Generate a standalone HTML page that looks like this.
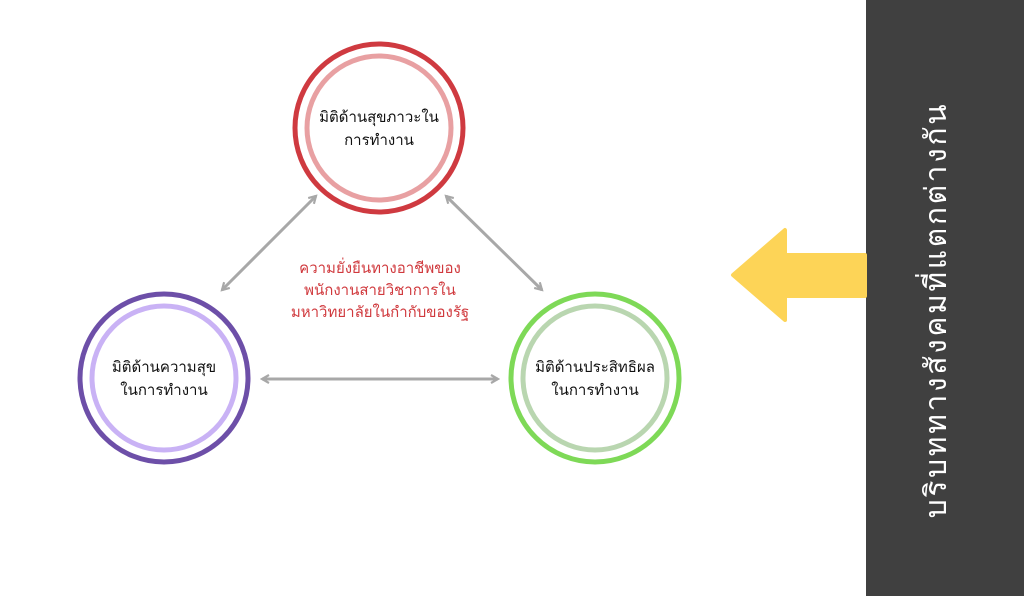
<!DOCTYPE html>
<html><head><meta charset="utf-8"><style>
html,body{margin:0;padding:0;background:#fff;width:1024px;height:596px;overflow:hidden}
svg text{font-family:"DejaVu Sans","Noto Sans CJK SC",sans-serif}
</style></head><body>
<svg width="1024" height="596" viewBox="0 0 1024 596" xmlns="http://www.w3.org/2000/svg">
<defs>
<marker id="a" markerWidth="10" markerHeight="10" refX="8" refY="5" orient="auto-start-reverse" markerUnits="userSpaceOnUse">
<path d="M1,1 L8,5 L1,9" fill="none" stroke="#a8a8a8" stroke-width="2.2"/>
</marker>
</defs>
<rect x="866" y="0" width="158" height="596" fill="#404040"/>
<text transform="translate(946,310) rotate(-90)" text-anchor="middle" fill="#fff" font-size="30" letter-spacing="2.6">บริบททางสังคมที่แตกต่างกัน</text>
<path d="M733,275 L785,230 L785,255 L865,255 L865,296 L785,296 L785,320 Z" fill="#fdd457" stroke="#fdd457" stroke-width="4" stroke-linejoin="round"/>
<g stroke="#a8a8a8" stroke-width="3" fill="none" marker-start="url(#a)" marker-end="url(#a)">
<line x1="222" y1="290" x2="316" y2="196"/>
<line x1="446" y1="196" x2="542" y2="290"/>
<line x1="262" y1="379" x2="498" y2="379"/>
</g>
<circle cx="379" cy="128" r="84" fill="#fff" stroke="#cf3a40" stroke-width="5"/>
<circle cx="379" cy="128" r="72" fill="none" stroke="#e8a0a2" stroke-width="5"/>
<circle cx="164" cy="378" r="84" fill="#fff" stroke="#6d4fa8" stroke-width="5"/>
<circle cx="164" cy="378" r="72" fill="none" stroke="#c9b2f5" stroke-width="5"/>
<circle cx="595" cy="378" r="84" fill="#fff" stroke="#7ed957" stroke-width="5"/>
<circle cx="595" cy="378" r="72" fill="none" stroke="#b9d6b0" stroke-width="5"/>
<g font-size="15" fill="#111" text-anchor="middle">
<text x="379" y="122">มิติด้านสุขภาวะใน</text>
<text x="379" y="145">การทำงาน</text>
<text x="164" y="372">มิติด้านความสุข</text>
<text x="164" y="395">ในการทำงาน</text>
<text x="595" y="372">มิติด้านประสิทธิผล</text>
<text x="595" y="395">ในการทำงาน</text>
</g>
<g font-size="15" fill="#d0393d" text-anchor="middle">
<text x="380" y="273">ความยั่งยืนทางอาชีพของ</text>
<text x="380" y="295">พนักงานสายวิชาการใน</text>
<text x="380" y="317">มหาวิทยาลัยในกำกับของรัฐ</text>
</g>
</svg>
</body></html>
